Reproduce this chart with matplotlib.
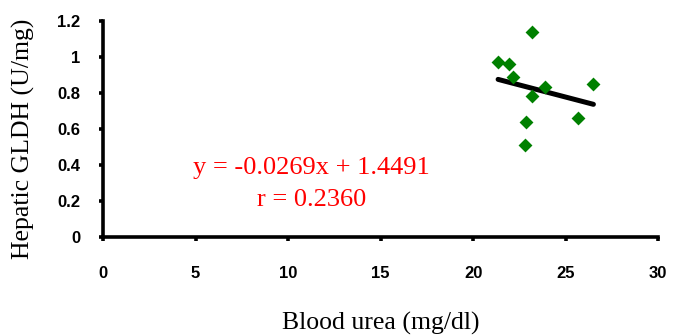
import numpy as np
import matplotlib.pyplot as plt

# Дані
urea = [23.2, 21.35, 21.95, 22.15, 23.9, 23.2, 26.5, 22.85, 25.65, 22.8]
gldh = [1.14, 0.97, 0.96, 0.89, 0.83, 0.78, 0.85, 0.64, 0.66, 0.51]
slope = -0.0269
intercept = 1.4491
r_value = 0.2360

x_ticks = [0, 5, 10, 15, 20, 25, 30]
y_ticks = [0, 0.2, 0.4, 0.6, 0.8, 1.0, 1.2]
y_tick_labels = ['0', '0.2', '0.4', '0.6', '0.8', '1', '1.2']

fig = plt.figure(figsize=(6.73, 3.36), dpi=100)
ax = fig.add_axes([0.153, 0.295, 0.825, 0.643])

ax.scatter(urea, gldh, marker='D', color='#008000', s=50, zorder=3, linewidths=0)

# Лінія регресії
x_fit = np.array([min(urea), max(urea)])
ax.plot(x_fit, slope * x_fit + intercept, color='black', lw=3.6, solid_capstyle='round', zorder=2)

ax.text(11.27, 0.35, f'y = {slope:.4f}x + {intercept:.4f}', color='red', ha='center', va='baseline',
        fontsize=19, family='Liberation Serif')
ax.text(11.27, 0.172, f'r = {r_value:.4f}', color='red', ha='center', va='baseline',
        fontsize=19, family='Liberation Serif')

ax.set_xlim(0, 30)
ax.set_ylim(0, 1.2)
ax.set_xticks(x_ticks)
ax.set_yticks(y_ticks)
ax.set_yticklabels(y_tick_labels)
for lbl in ax.get_xticklabels() + ax.get_yticklabels():
    lbl.set_family('Liberation Sans')
    lbl.set_fontweight('bold')
    lbl.set_fontsize(12)

ax.spines['top'].set_visible(False)
ax.spines['right'].set_visible(False)
ax.spines['left'].set_linewidth(2.6)
ax.spines['bottom'].set_linewidth(2.6)
ax.tick_params(direction='out', length=3, width=2.6)
ax.tick_params(axis='x', pad=18)
ax.tick_params(axis='y', pad=13.5)

ax.set_xlabel('Blood urea (mg/dl)', family='Liberation Serif', fontsize=18.5)
ax.set_ylabel('Hepatic GLDH (U/mg)', family='Liberation Serif', fontsize=18.5)
ax.xaxis.set_label_coords(0.5, -0.345)
ax.yaxis.set_label_coords(-0.122, 0.455)

fig.savefig('out.png', dpi=100)
